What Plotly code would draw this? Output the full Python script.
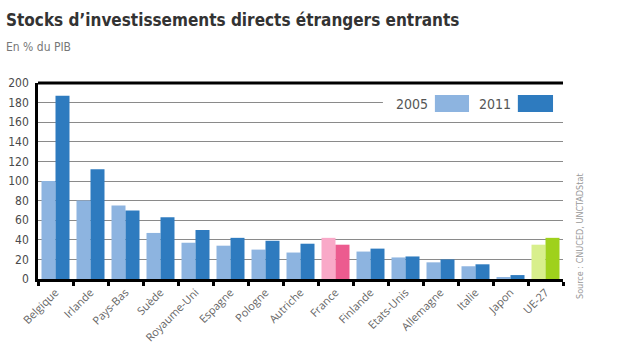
import plotly.graph_objects as go

categories = ["Belgique", "Irlande", "Pays-Bas", "Suède", "Royaume-Uni", "Espagne",
              "Pologne", "Autriche", "France", "Finlande", "Etats-Unis", "Allemagne",
              "Italie", "Japon", "UE-27"]
values_2005 = [100, 80, 75, 47, 37, 34, 30, 27, 42, 28, 22, 17, 13, 1.5, 35]
values_2011 = [187, 112, 70, 63, 50, 42, 39, 36, 35, 31, 23, 20, 15, 4, 42]
y_ticks = [0, 20, 40, 60, 80, 100, 120, 140, 160, 180, 200]

C05, C11 = "#8db4e0", "#2e7bbf"
colors_2005 = [C05] * len(categories)
colors_2011 = [C11] * len(categories)
colors_2005[categories.index("France")] = "#f9a9c8"
colors_2011[categories.index("France")] = "#ec5b8f"
colors_2005[categories.index("UE-27")] = "#d8ef8c"
colors_2011[categories.index("UE-27")] = "#9fd11c"

NARROW = "Liberation Sans Narrow, DejaVu Sans Condensed, Roboto, sans-serif"

fig = go.Figure()
fig.add_bar(x=categories, y=values_2005, name="2005", marker_color=colors_2005,
            marker_line_width=0, showlegend=False)
fig.add_bar(x=categories, y=values_2011, name="2011", marker_color=colors_2011,
            marker_line_width=0, showlegend=False)

fig.update_layout(
    width=624, height=356,
    margin=dict(l=38, r=61, t=83, b=77, autoexpand=False),
    paper_bgcolor="white", plot_bgcolor="white",
    barmode="group", bargap=0.2, bargroupgap=0,
    font=dict(family=NARROW, color="#555555"),
)
fig.update_xaxes(
    showline=True, linecolor="black", linewidth=2.5, automargin=False,
    tickson="boundaries", ticks="outside", ticklen=4, tickwidth=2.5, tickcolor="black",
    tickangle=-45, tickfont=dict(size=11, color="#666666", family="Open Sans, sans-serif"),
    showgrid=False, range=[-0.5, len(categories) - 0.5],
)
fig.update_yaxes(
    range=[0, 200], tickvals=y_ticks, ticks="", showline=True, linecolor="black",
    linewidth=2.5, gridcolor="#8a8a8a", gridwidth=1.3, zeroline=False, automargin=False,
    tickfont=dict(size=12, color="#4a4a4a", family=NARROW), ticklabelstandoff=4,
)

# top border
fig.add_shape(type="line", xref="paper", yref="paper", x0=0, x1=1, y0=1, y1=1,
              line=dict(color="black", width=3))
# custom legend
fig.add_shape(type="rect", xref="paper", yref="paper", x0=0.657, x1=1.0, y0=0.835, y1=0.955,
              fillcolor="white", line_width=0, layer="above")
fig.add_shape(type="rect", xref="paper", yref="paper", x0=0.756, x1=0.821, y0=0.852, y1=0.939,
              fillcolor=C05, line_width=0, layer="above")
fig.add_shape(type="rect", xref="paper", yref="paper", x0=0.914, x1=0.981, y0=0.852, y1=0.939,
              fillcolor=C11, line_width=0, layer="above")
fig.add_annotation(xref="paper", yref="paper", x=0.747, y=0.895, xanchor="right", yanchor="middle",
                   text="2005", showarrow=False, font=dict(size=14, color="#555555", family=NARROW))
fig.add_annotation(xref="paper", yref="paper", x=0.904, y=0.895, xanchor="right", yanchor="middle",
                   text="2011", showarrow=False, font=dict(size=14, color="#555555", family=NARROW))

# titles
fig.add_annotation(xref="paper", yref="paper", x=-34/525, y=(279 - 20) / 196, xanchor="left",
                   yanchor="middle", showarrow=False,
                   text="<b>Stocks d’investissements directs étrangers entrants</b>",
                   font=dict(size=17, color="#333333", family=NARROW))
fig.add_annotation(xref="paper", yref="paper", x=-34/525, y=(279 - 47) / 196, xanchor="left",
                   yanchor="middle", showarrow=False, text="En % du PIB",
                   font=dict(size=12, color="#777777", family=NARROW))
# source
fig.add_annotation(xref="paper", yref="paper", x=(580 - 38) / 525, y=(279 - 236) / 196,
                   xanchor="center", yanchor="middle", textangle=-90, showarrow=False,
                   text="Source : CNUCED, UNCTADStat",
                   font=dict(size=9, color="#999999", family=NARROW))

fig.write_html("out.html", config={"displayModeBar": False},
               post_script="document.body.style.margin='0';")
